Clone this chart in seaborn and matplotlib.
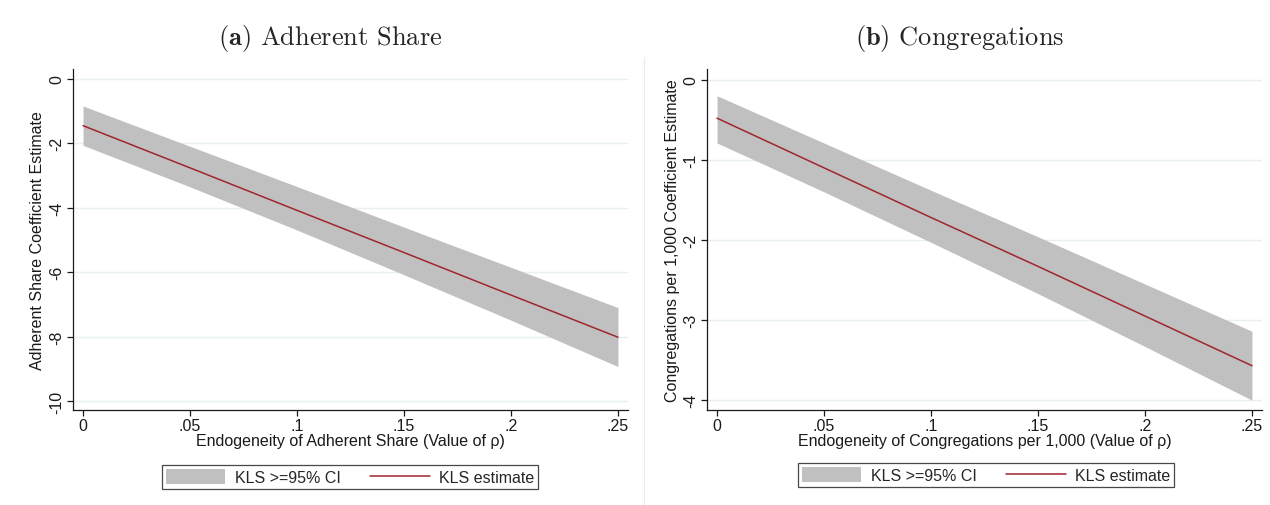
import matplotlib
matplotlib.use("Agg")
import matplotlib.pyplot as plt
import seaborn as sns
import pandas as pd
from matplotlib.lines import Line2D
from matplotlib.patches import Patch

# values
rho = [0, 0.05, 0.10, 0.15, 0.20, 0.25]
rho_labels = ["0", ".05", ".1", ".15", ".2", ".25"]

adh_est = [-1.45, -2.76, -4.08, -5.39, -6.71, -8.02]
adh_hi = [-0.84, -2.09, -3.34, -4.60, -5.85, -7.10]
adh_lo = [-2.06, -3.35, -4.69, -6.08, -7.49, -8.93]
adh_yticks = [0, -2, -4, -6, -8, -10]

cong_est = [-0.48, -1.10, -1.72, -2.33, -2.95, -3.57]
cong_hi = [-0.20, -0.79, -1.38, -1.96, -2.55, -3.14]
cong_lo = [-0.79, -1.40, -2.03, -2.67, -3.33, -4.00]
cong_yticks = [0, -1, -2, -3, -4]

sns.set_theme(style="white")
plt.rcParams['font.family'] = ['Liberation Sans', 'DejaVu Sans']
plt.rcParams['mathtext.fontset'] = 'cm'

BAND = "#c0c0c0"
LINE = "#a0262e"
GRID = "#e8f0f2"
INK = "#1a1a1a"
FS = 11.5

fig = plt.figure(figsize=(12.7, 5.06), dpi=100)
W, H = 1270, 506


def px_axes(x0, x1, y0, y1):
    return fig.add_axes([x0 / W, 1 - y1 / H, (x1 - x0) / W, (y1 - y0) / H])


ax1 = px_axes(73, 628, 70, 411)
ax2 = px_axes(707, 1262, 70, 411)

panels = [
    (ax1, adh_est, adh_lo, adh_hi, adh_yticks, (-10.28, 0.31),
     "Adherent Share Coefficient Estimate",
     "Endogeneity of Adherent Share (Value of ρ)"),
    (ax2, cong_est, cong_lo, cong_hi, cong_yticks, (-4.123, 0.134),
     "Congregations per 1,000 Coefficient Estimate",
     "Endogeneity of Congregations per 1,000 (Value of ρ)"),
]

for ax, est, lo, hi, yt, ylim, ylab, xlab in panels:
    df = pd.DataFrame({"rho": rho, "est": est})
    for y in yt:
        ax.axhline(y, color=GRID, lw=1.0, zorder=0)
    ax.fill_between(rho, lo, hi, color=BAND, lw=0, zorder=1)
    sns.lineplot(data=df, x="rho", y="est", ax=ax, color=LINE, lw=1.1, zorder=2)
    ax.set_xlim(-0.0047, 0.2547)
    ax.set_ylim(*ylim)
    ax.set_xticks(rho)
    ax.set_xticklabels(rho_labels)
    ax.set_yticks(yt)
    ax.set_yticklabels([str(v) for v in yt], rotation=90, va="center")
    ax.tick_params(direction="out", length=4, width=0.9, color=INK,
                   labelsize=FS, labelcolor=INK, pad=2)
    ax.tick_params(axis="x", bottom=True)
    ax.tick_params(axis="y", left=True)
    for s in ["top", "right"]:
        ax.spines[s].set_visible(False)
    for s in ["left", "bottom"]:
        ax.spines[s].set_color(INK)
        ax.spines[s].set_linewidth(0.9)
    ax.set_xlabel(xlab, fontsize=FS, color=INK, labelpad=0)
    ax.set_ylabel(ylab, fontsize=FS, color=INK, labelpad=3)
    ax.set_facecolor("white")

handles = [Patch(facecolor=BAND, edgecolor="none"),
           Line2D([0], [0], color=LINE, lw=1.1)]
labels = ["KLS >=95% CI", "KLS estimate"]
for cx, cy in [(350 / W, 1 - 478 / H), (986 / W, 1 - 476 / H)]:
    leg = fig.legend(handles, labels, loc="center", bbox_to_anchor=(cx, cy),
                     ncol=2, fontsize=FS, frameon=True, fancybox=False,
                     edgecolor=INK, handlelength=3.75, handleheight=1.05,
                     columnspacing=1.8, handletextpad=0.6, borderpad=0.25)
    leg.get_frame().set_linewidth(0.9)

fig.text(330 / W, 1 - 38 / H, r"$\mathbf{(a)}$ Adherent Share",
         family="cmr10", fontsize=19, ha="center", va="center")
fig.text(960 / W, 1 - 38 / H, r"$\mathbf{(b)}$ Congregations",
         family="cmr10", fontsize=19, ha="center", va="center")

# faint outline of the right graph region
fig.add_artist(Line2D([644 / W, 644 / W], [0, 1 - 58 / H],
                      transform=fig.transFigure, color="#ececec", lw=0.8))

fig.savefig("out.png", dpi=100, facecolor="white")
